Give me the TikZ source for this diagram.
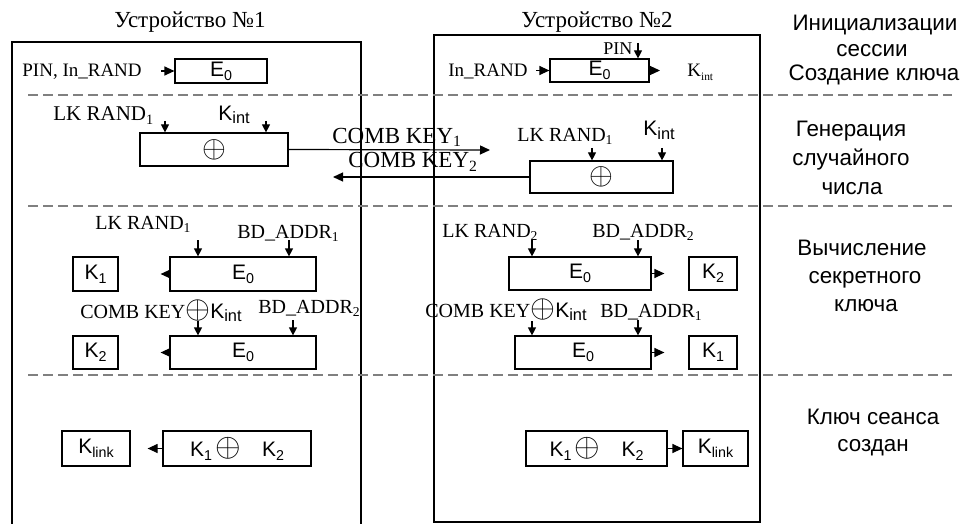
\documentclass[tikz,border=0pt]{standalone}
\usepackage{fontspec}
\setmainfont{Liberation Serif}
\setsansfont{Liberation Sans}
\usepackage{graphicx}
\usetikzlibrary{arrows.meta}
\newcommand\lo[2][0.68]{\raisebox{-0.35ex}{\scalebox{#1}{#2}}}
\newcommand\xo[1][1.4]{\scalebox{#1}{$\oplus$}}
\newcommand\fs[1]{\fontsize{#1}{#1}\selectfont}
\begin{document}
\begin{tikzpicture}[x=0.5pt,y=-0.5pt,
  box/.style={draw, line width=0.6pt, inner sep=0pt, font=\sffamily\fs{10.5}},
  lbl/.style={inner sep=0pt, anchor=base west, font=\fs{10}},
  side/.style={inner sep=0pt, anchor=base, font=\sffamily\fs{11.2}},
  title/.style={inner sep=0pt, anchor=base, font=\fs{11.5}},
  arr/.style={line width=0.6pt, -{Triangle[length=5pt,width=4.5pt]}},
  inp/.style={line width=0.6pt, -{Triangle[length=4pt,width=4pt]}},
  sep/.style={draw=gray, line width=1pt, dash pattern=on 5pt off 2.5pt},
  frame/.style={line width=0.7pt}]
\useasboundingbox (0,0) rectangle (964,524);

% frames
\draw[frame] (12,524) -- (12,42) -- (361,42) -- (361,524);
\draw[frame] (434,35) rectangle (760,522);

% separators
\draw[sep] (28,95) -- (952,95);
\draw[sep] (28,206) -- (952,206);
\draw[sep] (28,375) -- (952,375);

% titles
\node[title] (t1) at (190,28) {Устройство №1};
\node[title] (t2) at (597,28) {Устройство №2};

% side labels
\node[side] (s1a) at (875,31) {Инициализации};
\node[side] (s1b) at (872,57) {сессии};
\node[side] (s1c) at (874,81) {Создание ключа};
\node[side] (s2a) at (851,137) {Генерация};
\node[side] (s2b) at (851,165) {случайного};
\node[side] (s2c) at (852,194) {числа};
\node[side] (s3a) at (862,255) {Вычисление};
\node[side] (s3b) at (865,283) {секретного};
\node[side] (s3c) at (866,311) {ключа};
\node[side] (s4a) at (873,424) {Ключ сеанса};
\node[side] (s4b) at (873,451) {создан};

% row 1
\node[box, minimum width=46pt, minimum height=12pt] (e1a) at (221,71) {E\lo{0}};
\node[box, minimum width=49.5pt, minimum height=11.5pt] (e2a) at (599.5,70.5) {E\lo{0}};
\node[lbl, font=\fs{9.5}] (pin1) at (22,77) {PIN, In\_RAND};
\node[lbl, font=\fs{9.5}] (inr2) at (448,77) {In\_RAND};
\node[lbl, font=\fs{9}] (pin2) at (603,55) {PIN};
\node[lbl, font=\fs{9.5}] (kint0) at (687,77) {K\lo[0.6]{int}};
\draw[arr] ([xshift=-6.5pt]e1a.west) -- (e1a.west);
\draw[arr] ([xshift=-6.5pt]e2a.west) -- (e2a.west);
\coordinate (p2) at (638,43);
\draw[inp] (p2) -- (p2 |- e2a.north);
\draw[arr, shorten >=13.5pt] (e2a.east) -- (kint0.west |- e2a.east);

% row 2
\node[box, minimum width=74pt, minimum height=16.5pt] (x1) at (214,149.5) {\xo};
\node[box, minimum width=71.5pt, minimum height=16pt] (x2) at (601.5,177) {\xo};
\node[lbl, font=\fs{10.5}] (lk1) at (53,121) {LK RAND\lo{1}};
\node[lbl, font=\sffamily\fs{10.5}] (ki1) at (218,120) {K\lo[0.78]{int}};
\node[lbl, font=\fs{10}] (lk2) at (517,141) {LK RAND\lo{1}};
\node[lbl, font=\sffamily\fs{10.5}] (ki2) at (643,136) {K\lo[0.78]{int}};
\node[lbl, font=\fs{11.5}] (cb1) at (332,143) {COMB KEY\lo{1}};
\node[lbl, font=\fs{11.5}] (cb2) at (348,168) {COMB KEY\lo{2}};
\coordinate (i1) at (165,121);
\coordinate (i2) at (266,121);
\coordinate (i3) at (592,148);
\coordinate (i4) at (662,148);
\draw[inp] (i1) -- (i1 |- x1.north);
\draw[inp] (i2) -- (i2 |- x1.north);
\draw[inp] (i3) -- (i3 |- x2.north);
\draw[inp] (i4) -- (i4 |- x2.north);
\coordinate (c1) at (490,150);
\coordinate (c2) at (333,177);
\draw[arr] (x1.east) -- (c1);
\draw[arr] (x2.west) -- (c2);

% row 3, device 1
\node[box, minimum width=73pt, minimum height=17pt] (e1b) at (243,274) {E\lo{0}};
\node[box, minimum width=22.5pt, minimum height=17pt] (k1a) at (95.5,274) {K\lo{1}};
\node[box, minimum width=73pt, minimum height=16.5pt] (e1c) at (243,352.5) {E\lo{0}};
\node[box, minimum width=22.5pt, minimum height=16.5pt] (k1b) at (95.5,352.5) {K\lo{2}};
\node[lbl] (lk3) at (95,229) {LK RAND\lo{1}};
\node[lbl] (bd1) at (237,238) {BD\_ADDR\lo{1}};
\node[lbl] (ck1) at (80,318) {COMB KEY\xo[1.6]{\sffamily\fs{10.5}K\lo[0.78]{int}}};
\node[lbl] (bd2) at (258,313) {BD\_ADDR\lo{2}};
\coordinate (j1) at (198,240);
\coordinate (j2) at (289,240);
\coordinate (j3) at (198,321);
\coordinate (j4) at (293,320);
\draw[inp] (j1) -- (j1 |- e1b.north);
\draw[inp] (j2) -- (j2 |- e1b.north);
\draw[inp] (j3) -- (j3 |- e1c.north);
\draw[inp] (j4) -- (j4 |- e1c.north);
\draw[arr, shorten >=21pt] (e1b.west) -- (k1a.east);
\draw[arr, shorten >=21pt] (e1c.west) -- (k1b.east);

% row 3, device 2
\node[box, minimum width=71pt, minimum height=16.5pt] (e2b) at (580,273.5) {E\lo{0}};
\node[box, minimum width=24pt, minimum height=16.5pt] (k2a) at (713,273.5) {K\lo{2}};
\node[box, minimum width=68pt, minimum height=16.5pt] (e2c) at (583,352.5) {E\lo{0}};
\node[box, minimum width=24pt, minimum height=16.5pt] (k2b) at (713,352.5) {K\lo{1}};
\node[lbl] (lk4) at (442,237) {LK RAND\lo{2}};
\node[lbl] (bd3) at (592,237) {BD\_ADDR\lo{2}};
\node[lbl] (ck2) at (425,317) {COMB KEY\xo[1.6]{\sffamily\fs{10.5}K\lo[0.78]{int}}};
\node[lbl] (bd4) at (600,317) {BD\_ADDR\lo{1}};
\coordinate (m1) at (532,240);
\coordinate (m2) at (638,240);
\coordinate (m3) at (532,321);
\coordinate (m4) at (638,320);
\draw[inp] (m1) -- (m1 |- e2b.north);
\draw[inp] (m2) -- (m2 |- e2b.north);
\draw[inp] (m3) -- (m3 |- e2c.north);
\draw[inp] (m4) -- (m4 |- e2c.north);
\draw[arr, shorten >=12pt] (e2b.east) -- (k2a.west);
\draw[arr, shorten >=12pt] (e2c.east) -- (k2b.west);

% row 4
\node[box, minimum width=34pt, minimum height=17.5pt] (kl1) at (96,448.5) {K\lo{link}};
\node[box, minimum width=74pt, minimum height=17.5pt] (sum1) at (237,448.5) {K\lo{1}\,\xo[1.5]\quad K\lo{2}};
\node[box, minimum width=70.5pt, minimum height=17.5pt] (sum2) at (596.5,448.5) {K\lo{1}\,\xo[1.5]\quad K\lo{2}};
\node[box, minimum width=32.5pt, minimum height=17.5pt] (kl2) at (715.5,448.5) {K\lo{link}};
\draw[arr, shorten >=8.5pt] (sum1.west) -- (kl1.east);
\draw[arr] (sum2.east) -- (kl2.west);
\end{tikzpicture}
\end{document}
